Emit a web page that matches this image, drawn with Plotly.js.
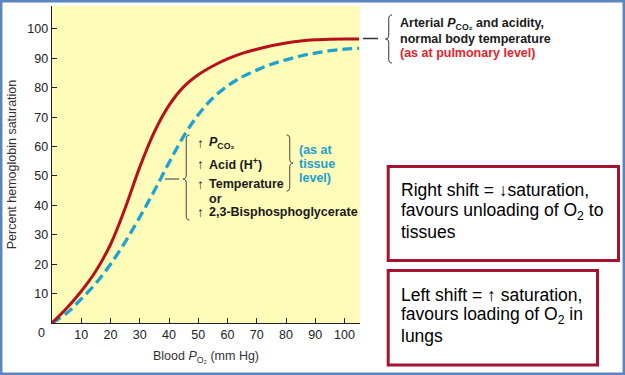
<!DOCTYPE html>
<html>
<head>
<meta charset="utf-8">
<script src="https://cdn.plot.ly/plotly-3.0.1.min.js"></script>
<style>
  html, body { margin: 0; padding: 0; background: #ffffff; }
  #chart { width: 625px; height: 375px; }
</style>
</head>
<body>
<div id="chart"></div>
<script>
// ---- data ----
const po2 = [0, 5, 10, 15, 20, 25, 30, 35, 40, 45, 50, 55, 60, 65, 70, 75, 80, 85, 90, 95, 100, 105];
const normalSat = [0, 5, 10.8, 17.7, 26.7, 39, 53, 65, 74, 80.3, 84.4, 87.4, 89.8, 91.7, 93.1, 94.3, 95.2, 95.9, 96.3, 96.5, 96.6, 96.6];
const shiftedSat = [0, 3.3, 8.2, 13.5, 20, 27.5, 36, 45, 54.5, 63.5, 70.8, 76.5, 80.6, 83.7, 86, 88, 89.5, 90.8, 91.8, 92.6, 93.1, 93.4];
const tickValues = [10, 20, 30, 40, 50, 60, 70, 80, 90, 100];
const tickLabels = ['10', '20', '30', '40', '50', '60', '70', '80', '90', '100'];

// ---- layout geometry (pixels) ----
const W = 625, H = 375;
const M = {l: 52, r: 265, t: 6, b: 52};
const PW = W - M.l - M.r, PH = H - M.t - M.b;
const px = v => (v - M.l) / PW;
const py = v => (H - M.b - v) / PH;

const FONT = '"Liberation Sans", Arial, Helvetica, sans-serif';

function brace(xTip, xEnd, yTop, yBot, yMid, r) {
  const xm = (xTip + xEnd) / 2;
  const P = (x, y) => px(x).toFixed(5) + ',' + py(y).toFixed(5);
  return 'M' + P(xEnd, yTop) +
    ' Q' + P(xm, yTop) + ' ' + P(xm, yTop + r) +
    ' L' + P(xm, yMid - r) +
    ' Q' + P(xm, yMid) + ' ' + P(xTip, yMid) +
    ' Q' + P(xm, yMid) + ' ' + P(xm, yMid + r) +
    ' L' + P(xm, yBot - r) +
    ' Q' + P(xm, yBot) + ' ' + P(xEnd, yBot);
}

function ann(text, x, y, size, color, opts) {
  return Object.assign({
    text: text, xref: 'paper', yref: 'paper', x: px(x), y: py(y),
    xanchor: 'left', yanchor: 'middle', showarrow: false,
    font: {family: FONT, size: size, color: color}
  }, opts || {});
}

const BLK = '#1a1a1a', RED = '#e3232c', BLUE = '#1d9fcc';
const annotations = [
  ann('0', 41, 333, 12.5, '#222', {xanchor: 'center'}),
  // top-right label
  ann('<b>Arterial <i>P</i><sub>CO₂</sub> and acidity,</b>', 398, 24, 12.5, BLK),
  ann('<b>normal body temperature</b>', 398, 39, 12.5, BLK),
  ann('<b>(as at pulmonary level)</b>', 398, 53, 12.5, RED),
  // middle block
  ann('↑', 195, 143, 13.5, BLK),
  ann('↑', 195, 164.3, 13.5, BLK),
  ann('↑', 195, 184.3, 13.5, BLK),
  ann('↑', 195, 212.3, 13.5, BLK),
  ann('<b><i>P</i><sub>CO₂</sub></b>', 207, 143, 12.5, BLK),
  ann('<b>Acid (H<sup>+</sup>)</b>', 207, 164.3, 12.5, BLK),
  ann('<b>Temperature</b>', 207, 184.3, 12.5, BLK),
  ann('<b>or</b>', 207, 199, 12.5, BLK),
  ann('<b>2,3-Bisphosphoglycerate</b>', 207, 212.3, 12.5, BLK),
  ann('<b>(as at</b>', 297, 150, 12.5, BLUE),
  ann('<b>tissue</b>', 297, 164, 12.5, BLUE),
  ann('<b>level)</b>', 297, 178, 12.5, BLUE),
  // boxes
  ann('Right shift = ↓saturation,', 399, 189.7, 17.5, '#000'),
  ann('favours unloading of O<sub>2</sub> to', 399, 211.7, 17.5, '#000'),
  ann('tissues', 399, 231.7, 17.5, '#000'),
  ann('Left shift = ↑ saturation,', 399, 294.7, 17.5, '#000'),
  ann('favours loading of O<sub>2</sub> in', 399, 315.7, 17.5, '#000'),
  ann('lungs', 399, 335.7, 17.5, '#000')
];

const shapes = [
  // outer frame
  {type: 'rect', xref: 'paper', yref: 'paper', x0: px(1.2), x1: px(623.8), y0: py(1.2), y1: py(373.8),
   line: {color: '#5a85be', width: 2.5}, layer: 'above'},
  // boxes
  {type: 'rect', xref: 'paper', yref: 'paper', x0: px(388.2), x1: px(618.5), y0: py(166.5), y1: py(260.5),
   line: {color: '#a5142f', width: 3}},
  {type: 'rect', xref: 'paper', yref: 'paper', x0: px(388.2), x1: px(597.5), y0: py(270.5), y1: py(365),
   line: {color: '#a5142f', width: 3}},
  // top-right brace and lead
  {type: 'path', xref: 'paper', yref: 'paper', path: brace(385.5, 392, 15, 63, 39, 4), line: {color: '#333', width: 1}},
  {type: 'line', xref: 'paper', yref: 'paper', x0: px(363), x1: px(378), y0: py(38.5), y1: py(38.5), line: {color: '#333', width: 1.5}},
  // middle braces and lead
  {type: 'path', xref: 'paper', yref: 'paper', path: brace(183, 189.5, 135, 220, 179, 4), line: {color: '#444', width: 1}},
  {type: 'line', xref: 'paper', yref: 'paper', x0: px(165), x1: px(179), y0: py(179), y1: py(179), line: {color: '#777', width: 1.5}},
  {type: 'path', xref: 'paper', yref: 'paper', path: brace(293, 286.5, 135, 191, 163, 4), line: {color: '#444', width: 1}}
];

const traces = [
  {x: po2, y: shiftedSat, type: 'scatter', mode: 'lines', name: 'Right shift',
   line: {color: '#1ca3d0', width: 3.3, dash: '10px,5px', shape: 'spline'}, cliponaxis: false},
  {x: po2, y: normalSat, type: 'scatter', mode: 'lines', name: 'Normal',
   line: {color: '#b5111b', width: 3, shape: 'spline'}, cliponaxis: false}
];

const axisFont = {family: FONT, size: 12.5, color: '#222'};
const layout = {
  width: W, height: H,
  margin: M,
  paper_bgcolor: '#ffffff',
  plot_bgcolor: '#fffbb9',
  showlegend: false,
  font: {family: FONT},
  xaxis: {
    range: [0, 105.3], tickvals: tickValues, ticktext: tickLabels,
    ticks: 'inside', ticklen: 5, tickwidth: 1, tickcolor: '#222',
    showline: true, linecolor: '#222', linewidth: 1.3, showgrid: false, zeroline: false,
    tickfont: axisFont,
    title: {text: 'Blood <i>P</i><sub>O₂</sub> (mm Hg)', font: {family: FONT, size: 12.5, color: '#333'}, standoff: 10}
  },
  yaxis: {
    range: [0, 107.8], tickvals: tickValues, ticktext: tickLabels,
    ticks: 'inside', ticklen: 5, tickwidth: 1, tickcolor: '#222',
    showline: true, linecolor: '#222', linewidth: 1.3, showgrid: false, zeroline: false,
    tickfont: axisFont,
    title: {text: 'Percent hemoglobin saturation', font: {family: FONT, size: 12.5, color: '#333'}, standoff: 8}
  },
  annotations: annotations,
  shapes: shapes
};

Plotly.newPlot('chart', traces, layout, {staticPlot: true, displayModeBar: false});
</script>
</body>
</html>
